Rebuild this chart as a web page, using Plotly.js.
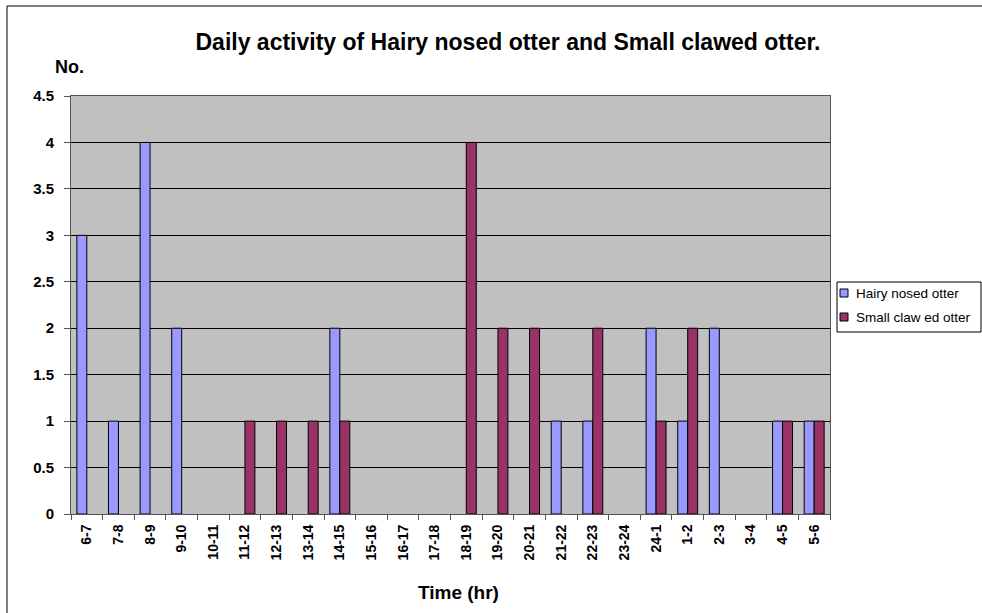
<!DOCTYPE html>
<html><head><meta charset="utf-8">
<script src="https://cdn.plot.ly/plotly-3.0.1.min.js"></script>
<style>html,body{margin:0;padding:0;background:#fff;}#chart{width:982px;height:613px;}</style>
</head><body><div id="chart"></div>
<script>
const categories = ["6-7","7-8","8-9","9-10","10-11","11-12","12-13","13-14","14-15","15-16","16-17","17-18","18-19","19-20","20-21","21-22","22-23","23-24","24-1","1-2","2-3","3-4","4-5","5-6"];
const hairyNosed = [3,1,4,2,0,0,0,0,2,0,0,0,0,0,0,1,1,0,2,1,2,0,1,1];
const smallClawed = [0,0,0,0,0,1,1,1,1,0,0,0,4,2,2,0,2,0,1,2,0,0,1,1];
const seriesNames = ["Hairy nosed otter","Small claw ed otter"];
const seriesColors = ["#9999FF","#993366"];
const yTicks = [0,0.5,1,1.5,2,2.5,3,3.5,4,4.5];

const FONT = "Liberation Sans, Arial, sans-serif";
const W = 982, H = 613, L = 71, R = 152, T = 96, B = 99;
const pw = W - L - R, ph = H - T - B;
const px = v => (v - L) / pw;
const py = v => (H - B - v) / ph;
const nz = arr => arr.map(v => v === 0 ? null : v);

const traces = [hairyNosed, smallClawed].map((vals, i) => ({
  type:'bar', name:seriesNames[i], x:categories, y:nz(vals),
  marker:{color:seriesColors[i], line:{color:'#000', width:1}}
}));

const legendRows = [293, 317];
const shapes = [
  {type:'rect', xref:'paper', yref:'paper', x0:px(7), x1:px(1000), y0:py(640), y1:py(6),
   line:{color:'#000', width:1}, fillcolor:'rgba(0,0,0,0)', layer:'below'},
  {type:'rect', xref:'paper', yref:'paper', x0:px(837), x1:px(981), y0:py(332), y1:py(282),
   line:{color:'#000', width:1}, fillcolor:'#fff'}
];
const annotations = [
  {text:'<b>No.</b>', xref:'paper', yref:'paper', x:px(53), y:py(67),
   xanchor:'left', yanchor:'middle', showarrow:false, font:{family:FONT, size:18}},
  {text:'<b>Time (hr)</b>', xref:'paper', yref:'paper', x:px(458), y:py(592),
   xanchor:'center', yanchor:'middle', showarrow:false, font:{family:FONT, size:19}}
];
seriesNames.forEach((n, i) => {
  const yc = legendRows[i];
  shapes.push({type:'rect', xref:'paper', yref:'paper', x0:px(840), x1:px(848),
    y0:py(yc+4), y1:py(yc-4), line:{color:'#000', width:1}, fillcolor:seriesColors[i]});
  annotations.push({text:n, xref:'paper', yref:'paper', x:px(854), y:py(yc),
    xanchor:'left', yanchor:'middle', showarrow:false, font:{family:FONT, size:13.5}});
});

const layout = {
  width:W, height:H,
  margin:{l:L, r:R, t:T, b:B, pad:0, autoexpand:false},
  paper_bgcolor:'#fff', plot_bgcolor:'#C0C0C0',
  font:{family:FONT, color:'#000', size:12},
  barmode:'group', bargap:0.37, bargroupgap:0,
  showlegend:false,
  title:{text:'<b>Daily activity of Hairy nosed otter and Small clawed otter.</b>',
         font:{family:FONT, size:23, color:'#000'},
         x:508/W, xref:'container', xanchor:'center',
         y:1-42/H, yref:'container', yanchor:'middle'},
  xaxis:{type:'category', tickangle:-90, tickfont:{family:FONT, size:14, weight:'bold'},
         showline:true, linecolor:'#555', linewidth:1, mirror:true,
         ticks:'outside', ticklen:5, tickcolor:'#555', tickson:'boundaries',
         ticklabelstandoff:4, showgrid:false, zeroline:false},
  yaxis:{range:[0,4.5], tickvals:yTicks, ticktext:yTicks.map(String),
         tickfont:{family:FONT, size:15, weight:'bold'},
         showline:true, linecolor:'#555', linewidth:1, mirror:true,
         ticks:'outside', ticklen:6, tickcolor:'#555', ticklabelstandoff:7,
         showgrid:true, gridcolor:'#000', gridwidth:1, zeroline:false},
  annotations:annotations,
  shapes:shapes
};

Plotly.newPlot('chart', traces, layout, {displayModeBar:false, staticPlot:true});
</script></body></html>
